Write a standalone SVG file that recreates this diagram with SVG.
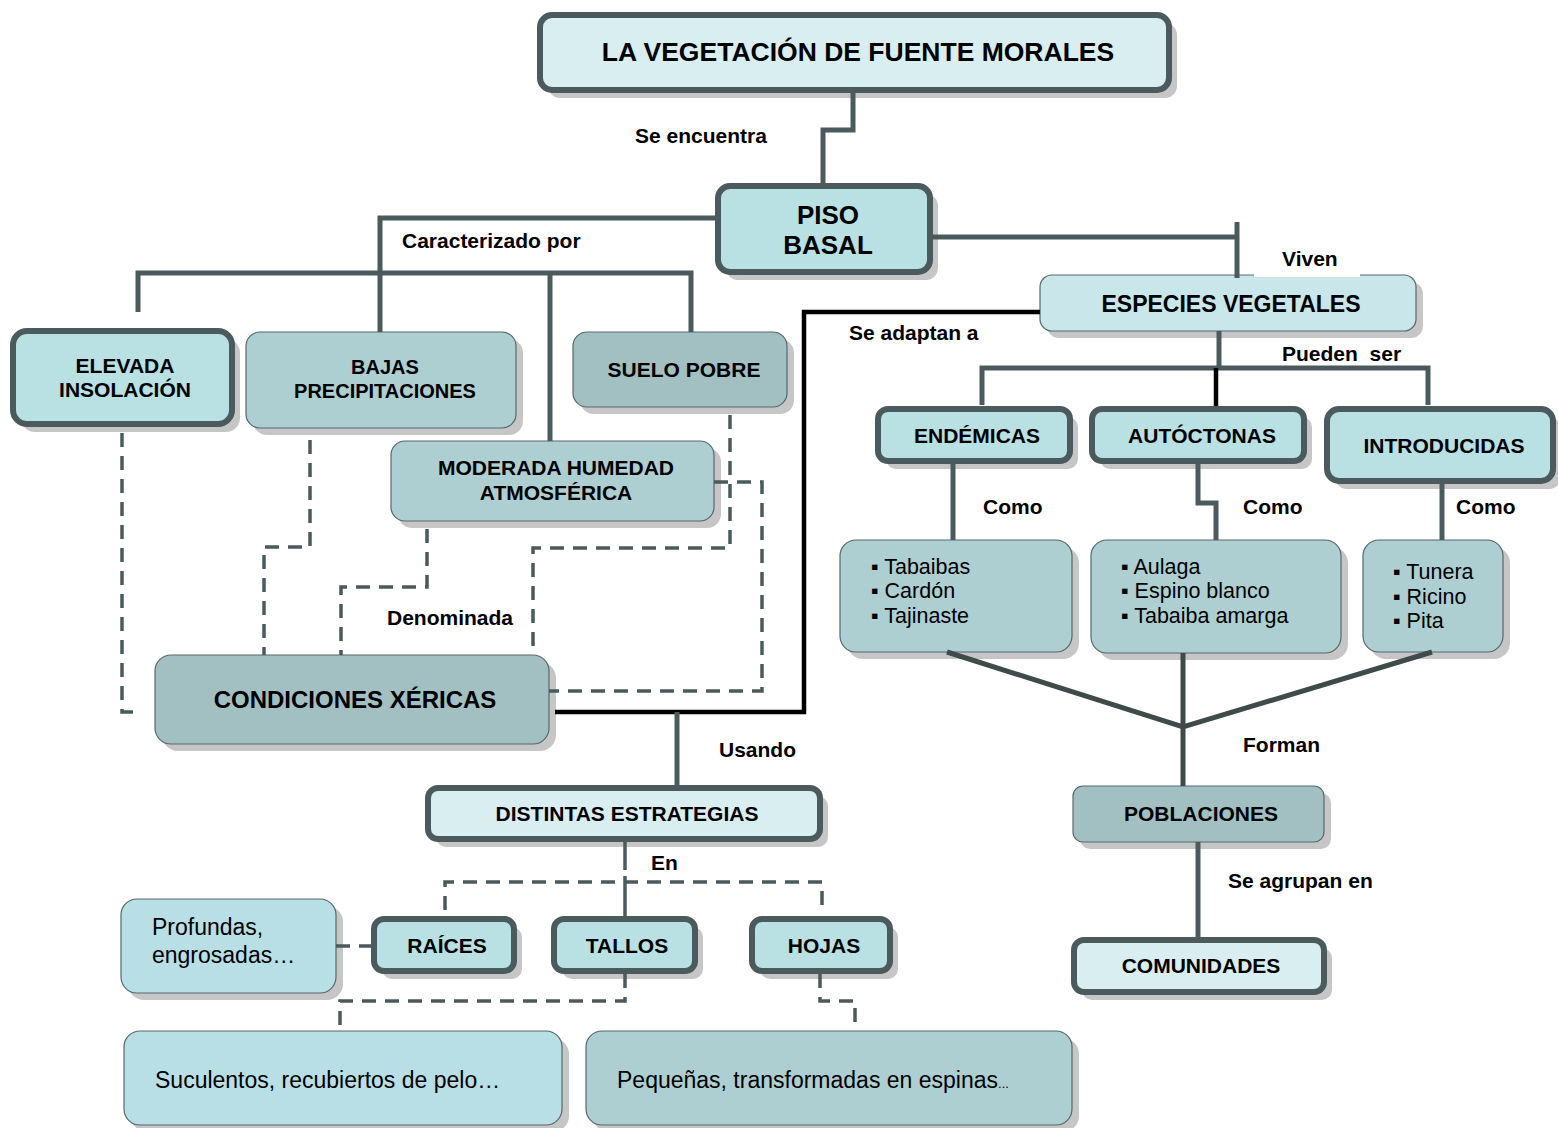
<svg xmlns="http://www.w3.org/2000/svg" width="1558" height="1128" viewBox="0 0 1558 1128">
<style>
text{font-family:"Liberation Sans",Arial,"DejaVu Sans",sans-serif;fill:#000}
.b{font-weight:bold}
.c{text-anchor:middle}
.n{font-size:21px}
.lb{font-size:21px;font-weight:bold}
.li{font-size:21.5px}
.r{font-size:23px}
.sh{fill:#c6c6c6}
.thick{stroke:#4b5a5c;stroke-width:6}
.thin{stroke:#56686a;stroke-width:1.2}
.f0{fill:#d9eef0}
.f1{fill:#b9e0e3}
.f2{fill:#aecfd1}
.f3{fill:#a2c0c2}
.f4{fill:#c9e7ea}
.f5{fill:#b9dfe6}
.s{fill:none;stroke:#4b5a5c;stroke-width:5}
.k{fill:none;stroke:#000;stroke-width:4.5}
.d{fill:none;stroke:#4b5a5c;stroke-width:3.5;stroke-dasharray:14 9}
.fm{fill:none;stroke:#3f4a4b;stroke-width:5}
</style>
<rect width="1558" height="1128" fill="#fff"/>
<g id="n-title"><rect class="sh" x="548" y="23" width="629" height="75" rx="12"/><rect class="thick f0" x="540" y="15" width="629" height="75" rx="12"/><text class="b c" x="858" y="61" font-size="26.5">LA VEGETACIÓN DE FUENTE MORALES</text></g>
<g id="n-piso"><rect class="sh" x="726" y="194" width="212" height="86" rx="12"/><rect class="thick f1" x="718" y="186" width="212" height="86" rx="12"/><text class="b c" x="828" y="224" font-size="26">PISO</text><text class="b c" x="828" y="254" font-size="26">BASAL</text></g>
<g id="n-elevada"><rect class="sh" x="21" y="339" width="219" height="93" rx="14"/><rect class="thick f1" x="13" y="331" width="219" height="93" rx="14"/><text class="b c n" x="125" y="373">ELEVADA</text><text class="b c n" x="125" y="397">INSOLACIÓN</text></g>
<g id="n-bajas"><rect class="sh" x="253" y="339" width="270" height="96" rx="14"/><rect class="thin f2" x="246" y="332" width="270" height="96" rx="14"/><text class="b c" x="385" y="374" font-size="20">BAJAS</text><text class="b c" x="385" y="398" font-size="20">PRECIPITACIONES</text></g>
<g id="n-suelo"><rect class="sh" x="580" y="339" width="214" height="75" rx="14"/><rect class="thin f3" x="573" y="332" width="214" height="75" rx="14"/><text class="b c n" x="684" y="377">SUELO POBRE</text></g>
<g id="n-moderada"><rect class="sh" x="398" y="448" width="323" height="80" rx="14"/><rect class="thin f2" x="391" y="441" width="323" height="80" rx="14"/><text class="b c n" x="556" y="475">MODERADA HUMEDAD</text><text class="b c n" x="556" y="500">ATMOSFÉRICA</text></g>
<g id="n-condiciones"><rect class="sh" x="162" y="662" width="394" height="89" rx="16"/><rect class="thin f3" x="155" y="655" width="394" height="89" rx="16"/><text class="b c" x="355" y="708" font-size="24">CONDICIONES XÉRICAS</text></g>
<g id="n-especies"><rect class="sh" x="1047" y="282" width="376" height="56" rx="12"/><rect class="thin f4" x="1040" y="275" width="376" height="56" rx="12"/><text class="b c" x="1231" y="312" font-size="23">ESPECIES VEGETALES</text></g>
<g id="n-endemicas"><rect class="sh" x="886" y="417" width="192" height="52" rx="10"/><rect class="thick f1" x="878" y="409" width="192" height="52" rx="10"/><text class="b c n" x="977" y="443">ENDÉMICAS</text></g>
<g id="n-autoctonas"><rect class="sh" x="1100" y="417" width="212" height="52" rx="10"/><rect class="thick f1" x="1092" y="409" width="212" height="52" rx="10"/><text class="b c n" x="1202" y="443">AUTÓCTONAS</text></g>
<g id="n-introducidas"><rect class="sh" x="1335" y="417" width="226" height="72" rx="12"/><rect class="thick f1" x="1327" y="409" width="226" height="72" rx="12"/><text class="b c n" x="1444" y="453">INTRODUCIDAS</text></g>
<g id="n-list1"><rect class="sh" x="847" y="547" width="232" height="112" rx="16"/><rect class="thin f2" x="840" y="540" width="232" height="112" rx="16"/><text class="li" x="871" y="574">▪ Tabaibas</text><text class="li" x="871" y="598">▪ Cardón</text><text class="li" x="871" y="623">▪ Tajinaste</text></g>
<g id="n-list2"><rect class="sh" x="1098" y="547" width="250" height="113" rx="16"/><rect class="thin f2" x="1091" y="540" width="250" height="113" rx="16"/><text class="li" x="1121" y="574">▪ Aulaga</text><text class="li" x="1121" y="598">▪ Espino blanco</text><text class="li" x="1121" y="623">▪ Tabaiba amarga</text></g>
<g id="n-list3"><rect class="sh" x="1370" y="547" width="140" height="112" rx="16"/><rect class="thin f2" x="1363" y="540" width="140" height="112" rx="16"/><text class="li" x="1393" y="579">▪ Tunera</text><text class="li" x="1393" y="604">▪ Ricino</text><text class="li" x="1393" y="628">▪ Pita</text></g>
<g id="n-poblaciones"><rect class="sh" x="1080" y="793" width="251" height="56" rx="10"/><rect class="thin f3" x="1073" y="786" width="251" height="56" rx="10"/><text class="b c n" x="1201" y="821">POBLACIONES</text></g>
<g id="n-comunidades"><rect class="sh" x="1082" y="948" width="250" height="52" rx="10"/><rect class="thick f0" x="1074" y="940" width="250" height="52" rx="10"/><text class="b c n" x="1201" y="973">COMUNIDADES</text></g>
<g id="n-distintas"><rect class="sh" x="436" y="796" width="392" height="51" rx="10"/><rect class="thick f0" x="428" y="788" width="392" height="51" rx="10"/><text class="b c n" x="627" y="821">DISTINTAS ESTRATEGIAS</text></g>
<g id="n-raices"><rect class="sh" x="382" y="927" width="140" height="52" rx="10"/><rect class="thick f1" x="374" y="919" width="140" height="52" rx="10"/><text class="b c n" x="447" y="953">RAÍCES</text></g>
<g id="n-tallos"><rect class="sh" x="562" y="927" width="141" height="52" rx="10"/><rect class="thick f1" x="554" y="919" width="141" height="52" rx="10"/><text class="b c n" x="627" y="953">TALLOS</text></g>
<g id="n-hojas"><rect class="sh" x="760" y="927" width="138" height="52" rx="10"/><rect class="thick f1" x="752" y="919" width="138" height="52" rx="10"/><text class="b c n" x="824" y="953">HOJAS</text></g>
<g id="n-profundas"><rect class="sh" x="128" y="906" width="215" height="94" rx="16"/><rect class="thin f5" x="121" y="899" width="215" height="94" rx="16"/><text class="r" x="152" y="935">Profundas,</text><text class="r" x="152" y="963">engrosadas…</text></g>
<g id="n-suculentos"><rect class="sh" x="131" y="1038" width="438" height="94" rx="16"/><rect class="thin f5" x="124" y="1031" width="438" height="94" rx="16"/><text class="r" x="155" y="1088">Suculentos, recubiertos de pelo…</text></g>
<g id="n-pequenas"><rect class="sh" x="593" y="1038" width="486" height="94" rx="16"/><rect class="thin f2" x="586" y="1031" width="486" height="94" rx="16"/><text class="r" x="617" y="1088">Pequeñas, transformadas en espinas<tspan font-size="13">...</tspan></text></g>
<g id="connectors">
<path class="s" d="M853,93 V130 H823 V183"/>
<path class="s" d="M715,218 H380 V332"/>
<path class="s" d="M138,312 V273 H691 V332"/>
<path class="s" d="M550,273 V441"/>
<path class="s" d="M933,237 H1237"/>
<path class="s" d="M1237,222 V278"/>
<path class="k" d="M1040,312 H804 V712 H555"/>
<path class="s" d="M1219,331 V368"/>
<path class="s" d="M982,405 V368 H1428 V405"/>
<path class="k" d="M1216,368 V406"/>
<path class="s" d="M953,464 V540"/>
<path class="s" d="M1198,464 V503 H1216 V540"/>
<path class="s" d="M1442,484 V540"/>
<path class="fm" d="M947,652 L1183,727 L1432,652"/>
<path class="fm" d="M1183,653 V786"/>
<path class="s" d="M1198,842 V937"/>
<path class="d" d="M122,433 V712 H140"/>
<path class="d" d="M310,440 V547 H264 V655"/>
<path class="d" d="M427,529 V587 H341 V655"/>
<path class="d" d="M730,415 V548 H533 V655"/>
<path class="d" d="M714,482 H762 V691 H549"/>
<path class="s" d="M677,712 V785"/>
<path fill="none" stroke="#4b5a5c" stroke-width="3.5" d="M625,842 V870 M625,876 V917"/>
<path class="d" d="M445,910 V882 H822 V910"/>
<path class="d" d="M336,946 H371"/>
<path class="d" d="M625,974 V1001 H340 V1031"/>
<path class="d" d="M820,974 V1001 H855 V1031"/>
</g>
<g id="labels">
<text class="lb" x="635" y="143">Se encuentra</text>
<text class="lb" x="402" y="248">Caracterizado por</text>
<rect x="1254" y="256" width="106" height="21" fill="#fff"/>
<text class="lb" x="1282" y="266">Viven</text>
<text class="lb" x="849" y="340">Se adaptan a</text>
<text class="lb" x="1282" y="361">Pueden&#160; ser</text>
<text class="lb" x="983" y="514">Como</text>
<text class="lb" x="1243" y="514">Como</text>
<text class="lb" x="1456" y="514">Como</text>
<text class="lb" x="387" y="625">Denominada</text>
<text class="lb" x="719" y="757">Usando</text>
<text class="lb" x="1243" y="752">Forman</text>
<text class="lb" x="1228" y="888">Se agrupan en</text>
<text class="lb" x="651" y="870">En</text>
</g>
</svg>
